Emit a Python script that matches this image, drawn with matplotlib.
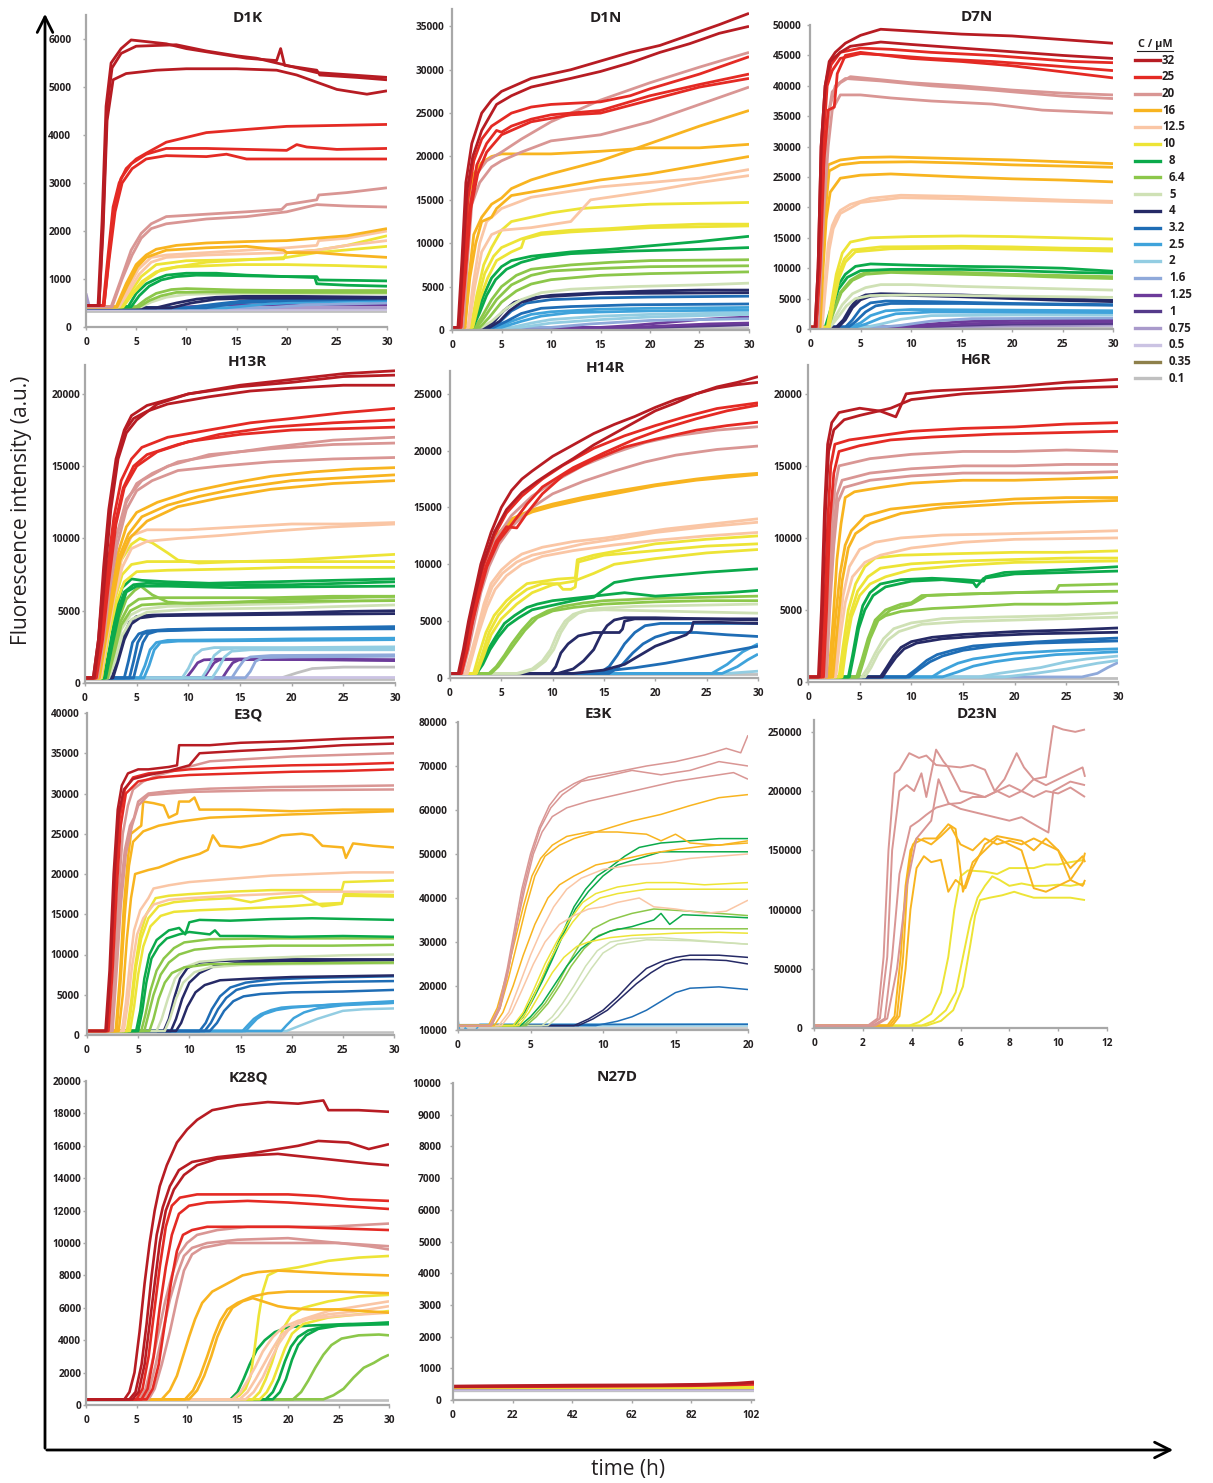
import matplotlib
matplotlib.use('Agg')
import numpy as np
import matplotlib.pyplot as plt
from matplotlib.lines import Line2D
from matplotlib.patches import FancyArrowPatch

W, H = 1213, 1483
plt.rcParams['font.family'] = ['Open Sans', 'DejaVu Sans']

# ---------------- legend / colours ----------------
CONCS = ['32', '25', '20', '16', '12.5', '10', '8', '6.4', '5', '4', '3.2', '2.5',
         '2', '1.6', '1.25', '1', '0.75', '0.5', '0.35', '0.1']
COLORS = ['#B71C23', '#E42A24', '#D99694', '#F8B420', '#FAC6A5', '#EDE436', '#0BAA4B',
          '#8CC74A', '#CFE1B5', '#262A66', '#1F6DB5', '#3FA3DB', '#93CDE2', '#8FA9DA',
          '#6C3B9A', '#553A8A', '#A99ACB', '#CBC3E3', '#8E804B', '#C0C0C0']
CCOL = dict(zip(CONCS, COLORS))

# ---------------- data (time in h, fluorescence in thousands a.u.) ----------------
D1K = [
 ('32', [(0,.45),(1.2,.45),(1.6,2.2),(2.0,4.6),(2.5,5.5),(3.5,5.8),(4.5,5.98),(8,5.9),(10,5.8),(13,5.7),(16,5.6),(19,5.55),(19.4,5.8),(19.8,5.45),(23,5.35),(23.3,5.25),(27,5.2),(30,5.15)]),
 ('32', [(0,.45),(1.3,.45),(1.7,2.2),(2.1,4.6),(2.6,5.4),(3.5,5.7),(5,5.85),(9,5.88),(12,5.75),(15,5.65),(17,5.6),(19,5.5),(20,5.45),(23,5.3),(30,5.2)]),
 ('32', [(0,.45),(1.3,.45),(1.7,2.0),(2.1,4.3),(2.7,5.15),(4,5.28),(7,5.35),(10,5.38),(15,5.38),(19,5.35),(21,5.25),(23,5.1),(25,4.95),(28,4.85),(30,4.92)]),
 ('25', [(0,.45),(1.7,.45),(2.2,1.5),(2.7,2.5),(3.3,3.0),(4,3.3),(5,3.5),(6,3.62),(8,3.85),(10,3.95),(12,4.05),(15,4.1),(20,4.18),(25,4.2),(30,4.22)]),
 ('25', [(0,.45),(1.8,.45),(2.3,1.5),(2.8,2.5),(3.5,3.1),(4.5,3.4),(6,3.6),(8,3.72),(12,3.72),(16,3.7),(20,3.68),(21,3.8),(22,3.75),(25,3.7),(30,3.72)]),
 ('25', [(0,.45),(1.8,.45),(2.3,1.4),(2.9,2.4),(3.6,3.0),(4.6,3.3),(6,3.5),(8,3.57),(12,3.55),(14,3.6),(16,3.5),(20,3.5),(25,3.5),(30,3.5)]),
 ('20', [(0,.42),(2.5,.42),(3.5,1.0),(4.5,1.6),(5.5,1.95),(6.5,2.15),(8,2.3),(12,2.35),(16,2.4),(19.5,2.45),(20,2.55),(23,2.65),(23.2,2.75),(26,2.8),(30,2.9)]),
 ('20', [(0,.42),(2.6,.42),(3.6,1.0),(4.6,1.5),(5.5,1.85),(6.5,2.05),(8,2.15),(12,2.25),(16,2.3),(20,2.4),(22,2.5),(23,2.55),(26,2.52),(30,2.5)]),
 ('16', [(0,.42),(3.0,.42),(4,0.9),(5,1.3),(6,1.5),(7,1.62),(9,1.7),(12,1.75),(16,1.78),(20,1.8),(23,1.85),(26,1.9),(30,2.05)]),
 ('16', [(0,.42),(3.1,.42),(4.1,0.85),(5.1,1.25),(6,1.45),(8,1.6),(12,1.65),(16,1.68),(19.7,1.6),(20,1.55),(23,1.55),(26,1.5),(30,1.45)]),
 ('12.5', [(0,.42),(3.2,.42),(4.2,.8),(5.2,1.2),(6.5,1.45),(8,1.5),(12,1.55),(16,1.6),(20,1.65),(23,1.7),(23.2,1.8),(26,1.85),(30,2.0)]),
 ('12.5', [(0,.42),(3.3,.42),(4.3,.75),(5.3,1.1),(6.5,1.35),(8,1.45),(12,1.5),(20,1.55),(23,1.6),(26,1.7),(30,1.8)]),
 ('10', [(0,.42),(3.5,.42),(4.5,.75),(5.5,1.05),(7,1.3),(10,1.38),(15,1.4),(19.7,1.42),(20,1.55),(23,1.6),(26,1.7),(30,1.9)]),
 ('10', [(0,.42),(3.6,.42),(4.6,.7),(5.6,.95),(7,1.15),(9,1.25),(15,1.3),(20,1.3),(25,1.28),(30,1.25)]),
 ('10', [(0,.42),(3.7,.42),(4.7,.7),(5.8,.95),(7.5,1.2),(12,1.35),(20,1.45),(23,1.55),(30,1.68)]),
 ('8', [(0,.42),(4.2,.42),(5,.7),(6,.9),(7,1.0),(8,1.08),(10,1.12),(13,1.12),(16,1.08),(20,1.05),(23,1.05),(23.2,0.98),(27,0.97),(30,0.96)]),
 ('8', [(0,.42),(4.5,.42),(5.3,.65),(6.3,.85),(7.5,.98),(9,1.05),(11,1.08),(15,1.07),(20,1.05),(22.8,1.03),(23,0.9),(26,0.87),(30,0.85)]),
 ('6.4', [(0,.42),(5,.42),(6,.58),(7,.7),(8.5,.78),(10,.8),(15,.77),(20,.76),(30,.76)]),
 ('6.4', [(0,.42),(5.3,.42),(6.3,.55),(7.5,.65),(9,.72),(12,.73),(20,.72),(30,.72)]),
 ('5', [(0,.42),(5.5,.42),(6.5,.52),(8,.62),(10,.68),(15,.7),(30,.7)]),
 ('4', [(0,.4),(7,.4),(9,.5),(11,.58),(13,.62),(16,.64),(20,.64),(30,.62)]),
 ('4', [(0,.4),(8.5,.4),(10.5,.5),(13,.58),(16,.6),(30,.6)]),
 ('3.2', [(0,.4),(10,.4),(13,.48),(16,.55),(20,.58),(30,.62)]),
 ('3.2', [(0,.4),(12,.4),(15,.5),(20,.55),(30,.58)]),
 ('2.5', [(0,.4),(14,.4),(18,.48),(22,.52),(30,.55)]),
 ('1.6', [(0,.4),(18,.4),(22,.46),(30,.5)]),
 ('1.25', [(0,.4),(8,.4),(12,.44),(15,.46),(30,.46)]),
 ('0.75', [(0,.7),(0.3,.45),(1,.4),(30,.4)]),
 ('0.5', [(0,.37),(30,.37)]),
 ('0.1', [(0,.33),(30,.33)]),
]

D1N = [
 ('32', [(0,.3),(0.6,.3),(1.0,8),(1.4,17),(2,21.5),(3,25),(4,26.5),(5,27.5),(8,29),(12,30),(15,31),(18,32),(21,32.8),(24,34),(27,35.2),(30,36.5)]),
 ('32', [(0,.3),(0.7,.3),(1.1,8),(1.5,16),(2.1,20),(3,23),(4.5,26),(6,27),(8,28),(12,29),(15,29.8),(18,30.8),(21,32),(24,33),(27,34.2),(30,35)]),
 ('25', [(0,.3),(0.8,.3),(1.2,8),(1.6,15),(2.2,19.5),(3,22),(4,23.5),(6,25),(8,25.7),(10,26),(15,26.3),(18,27),(20,27.8),(25,29.5),(30,31.5)]),
 ('25', [(0,.3),(0.9,.3),(1.3,7),(1.8,14),(2.5,19),(3.5,21.5),(4.5,23),(5,22.8),(6,23.5),(8,24.3),(10,24.8),(15,25.3),(20,27),(25,28.3),(30,29.5)]),
 ('25', [(0,.3),(0.9,.3),(1.4,7),(1.9,14),(2.6,18),(3.5,20.5),(5,22.5),(8,24),(12,24.8),(15,25),(20,26.5),(25,28),(30,29)]),
 ('20', [(0,.3),(1.0,.3),(1.4,7),(1.9,15),(2.5,18),(3.5,19.5),(5,20.5),(7,22),(10,24),(15,26.5),(20,28.5),(25,30.3),(30,32)]),
 ('20', [(0,.3),(1.1,.3),(1.5,7),(2,14.5),(2.8,17),(4,18.8),(5,19.5),(7,20.5),(10,21.8),(15,22.5),(20,24),(25,26),(30,28)]),
 ('16', [(0,.3),(1.1,.3),(1.5,8),(1.8,16),(2.2,18),(3,19.3),(4,20),(5,20.3),(10,20.3),(15,20.6),(20,21),(25,21),(30,21.4)]),
 ('16', [(0,.3),(1.3,.3),(1.7,6),(2.2,11),(3,13),(4,14.5),(5,15.2),(6,16.3),(8,17.3),(10,18),(15,19.5),(20,21.5),(25,23.5),(30,25.3)]),
 ('16', [(0,.3),(1.3,.3),(1.8,6),(2.4,10),(3,12.5),(4,13),(4.5,14),(6,15.5),(10,16.3),(15,17.3),(20,18),(25,19),(30,20)]),
 ('12.5', [(0,.3),(1.6,.3),(2.1,5),(2.8,10),(3.5,12.5),(5,14),(8,15.3),(12,16),(15,16.5),(20,17),(25,17.5),(30,18.5)]),
 ('12.5', [(0,.3),(1.7,.3),(2.3,5),(3,9),(4,11),(5,11.5),(8,11.8),(12,12.5),(14,15),(20,16),(25,17),(30,17.8)]),
 ('10', [(0,.3),(1.9,.3),(2.5,4),(3.2,7.5),(4,9.5),(5,11.5),(6,12.5),(8,13),(10,13.5),(13,14),(17,14.3),(20,14.5),(25,14.6),(30,14.7)]),
 ('10', [(0,.3),(2.0,.3),(2.6,3.5),(3.3,6.5),(4.2,8.5),(5,9.5),(7,10.5),(9,11.2),(12,11.5),(16,11.7),(20,12),(25,12.2),(30,12.2)]),
 ('10', [(0,.3),(2.1,.3),(2.8,3.5),(3.6,6),(4.5,8),(6,9),(7,9.5),(7.3,10.5),(9,11),(12,11.3),(20,11.8),(30,12)]),
 ('8', [(0,.3),(2.0,.3),(2.6,2),(3.2,4),(4,6),(5,7.3),(6,8),(8,8.5),(12,9),(16,9.3),(20,9.7),(25,10.2),(30,10.8)]),
 ('8', [(0,.3),(2.1,.3),(2.8,2),(3.5,4),(4.4,5.8),(5.5,7),(7,7.8),(9,8.4),(12,8.8),(18,9.1),(25,9.3),(30,9.5)]),
 ('6.4', [(0,.3),(2.3,.3),(3,1.5),(4,3.5),(5,5),(6.5,6.3),(8,7),(12,7.5),(16,7.8),(20,8),(30,8.1)]),
 ('6.4', [(0,.3),(2.5,.3),(3.3,1.5),(4.5,3.5),(6,5.2),(8,6.3),(10,6.8),(15,7.1),(20,7.3),(30,7.4)]),
 ('6.4', [(0,.3),(2.8,.3),(3.8,1.5),(5,3.2),(6.5,4.5),(8,5.3),(10,5.8),(15,6.3),(20,6.5),(30,6.7)]),
 ('5', [(0,.3),(3,.3),(4,1),(5.5,2.5),(7,3.5),(9,4.3),(12,4.7),(18,5),(25,5.2),(30,5.4)]),
 ('4', [(0,.3),(3.3,.3),(4.2,.9),(5.2,2.2),(6.3,3.2),(7.5,3.6),(10,4),(15,4.3),(20,4.5),(25,4.6),(30,4.6)]),
 ('4', [(0,.3),(3.8,.3),(4.8,1),(5.8,2.2),(7,3.2),(9,3.8),(15,4.2),(30,4.3)]),
 ('3.2', [(0,.3),(3.8,.3),(4.8,.9),(6,2.2),(7.5,3.1),(10,3.5),(15,3.7),(20,3.8),(30,3.9)]),
 ('3.2', [(0,.3),(4.2,.3),(5.5,1),(7,1.9),(9,2.5),(12,2.7),(18,2.9),(30,3.0)]),
 ('2.5', [(0,.3),(4.5,.3),(6,1),(8,1.8),(10,2.1),(15,2.4),(20,2.5),(30,2.6)]),
 ('2.5', [(0,.3),(5,.3),(7,1),(9,1.6),(12,2),(20,2.2),(30,2.3)]),
 ('2', [(0,.3),(6,.3),(8,.8),(10,1.2),(15,1.6),(20,1.8),(30,2.0)]),
 ('2', [(0,.3),(7,.3),(10,.8),(15,1.2),(20,1.5),(30,1.8)]),
 ('1.6', [(0,.3),(10,.3),(14,.7),(20,1.1),(30,1.3)]),
 ('1.25', [(0,.3),(15,.3),(18,.5),(22,.9),(25,1.2),(28,1.4),(30,1.5)]),
 ('1.25', [(0,.3),(18,.3),(22,.5),(26,.7),(30,.8)]),
 ('1', [(0,.3),(20,.3),(25,.45),(30,.6)]),
 ('0.1', [(0,.25),(30,.25)]),
]

D7N = [
 ('32', [(0,.3),(0.5,.3),(0.8,10),(1.1,30),(1.5,40),(1.9,44),(2.5,45.5),(3.5,47),(5,48.3),(7,49.3),(10,49),(15,48.5),(20,48.2),(25,47.6),(30,47)]),
 ('32', [(0,.3),(0.5,.3),(0.8,10),(1.1,30),(1.5,40),(2,44),(3,45.5),(4,46.5),(7,47.2),(10,46.8),(15,46.2),(20,45.6),(25,45),(30,44.5)]),
 ('25', [(0,.3),(0.6,.3),(0.9,10),(1.2,30),(1.6,40),(2.1,43.5),(3,45.5),(5,46.2),(8,46),(12,45.5),(18,45),(22,44.5),(26,44),(30,43.8)]),
 ('25', [(0,.3),(0.6,.3),(0.9,10),(1.3,30),(1.7,40),(2.2,42.5),(3,44.5),(5,45.3),(8,45),(12,44.5),(18,44),(24,43.3),(30,42.5)]),
 ('25', [(0,.3),(0.6,.3),(1.0,10),(1.4,28),(1.8,36),(2.4,36.5),(2.7,42),(3.5,45),(5,45.5),(10,44.5),(15,44),(20,43.3),(25,42.3),(30,41.3)]),
 ('20', [(0,.3),(0.7,.3),(1.0,10),(1.3,25),(1.7,34),(2.2,39),(3,40.5),(4,41.5),(7,41),(10,40.5),(15,40),(20,39.3),(25,38.8),(30,38.5)]),
 ('20', [(0,.3),(0.7,.3),(1.0,10),(1.4,27),(1.9,36),(2.5,40),(3.5,41.2),(7,40.8),(12,40),(18,39.3),(25,38.3),(30,37.9)]),
 ('20', [(0,.3),(0.8,.3),(1.1,10),(1.4,20),(1.8,30),(2.2,36),(3,38.5),(5,38.5),(8,38),(12,37.5),(18,37),(23,36),(30,35.5)]),
 ('16', [(0,.3),(0.9,.3),(1.2,10),(1.5,20),(1.8,27),(3,27.8),(5,28.2),(8,28.3),(15,28),(20,27.8),(25,27.5),(30,27.2)]),
 ('16', [(0,.3),(0.9,.3),(1.2,10),(1.5,19),(1.9,26),(3,27),(5,27.4),(10,27.5),(15,27.3),(20,27),(25,26.8),(30,26.6)]),
 ('16', [(0,.3),(1.0,.3),(1.3,10),(1.6,18),(2,22.5),(3,24.8),(5,25.3),(8,25.5),(15,25),(20,24.7),(25,24.5),(30,24.2)]),
 ('12.5', [(0,.3),(1.1,.3),(1.4,6),(1.8,14),(2.2,17),(2.6,18.5),(3,19.5),(4,20.5),(6,21.5),(9,22),(15,21.8),(20,21.5),(25,21.2),(30,21)]),
 ('12.5', [(0,.3),(1.2,.3),(1.5,6),(1.9,13),(2.3,16.5),(3,19),(5,20.8),(9,21.6),(15,21.4),(25,21),(30,20.8)]),
 ('10', [(0,.3),(1.7,.3),(2.1,4),(2.6,9),(3.2,12.5),(4,14.3),(6,15),(10,15.2),(15,15.3),(20,15.2),(25,15),(30,14.8)]),
 ('10', [(0,.3),(1.8,.3),(2.2,4),(2.8,9),(3.4,11.5),(4.2,13),(7,13.5),(15,13.6),(20,13.5),(25,13.3),(30,13.2)]),
 ('10', [(0,.3),(1.9,.3),(2.3,4),(2.9,8.5),(3.5,11),(4.5,12.7),(8,13.2),(15,13.3),(25,13),(30,12.8)]),
 ('8', [(0,.3),(1.5,.3),(2,3),(2.7,7),(3.5,9),(4.5,10.3),(6,10.7),(10,10.5),(15,10.3),(20,10.2),(25,10),(30,9.5)]),
 ('8', [(0,.3),(1.6,.3),(2.1,3),(2.8,6.5),(3.7,8.5),(5,9.6),(8,9.8),(15,9.8),(20,9.6),(26,9.3),(30,9.2)]),
 ('6.4', [(0,.3),(1.7,.3),(2.3,3),(3,6),(4,8),(5,9),(6,9.5),(10,9.5),(15,9.3),(20,9),(25,8.8),(30,8.6)]),
 ('6.4', [(0,.3),(1.8,.3),(2.4,3),(3.1,6),(4.2,8),(5.5,9),(8,9.3),(15,9),(20,8.8),(25,8.5),(30,8.3)]),
 ('5', [(0,.3),(1.8,.3),(2.5,2),(3.2,4),(4.2,5.8),(5.5,6.8),(7,7.3),(10,7.3),(15,7),(20,6.8),(25,6.6),(30,6.4)]),
 ('5', [(0,.3),(2,.3),(2.8,2),(3.6,3.8),(4.5,5),(6,5.5),(10,5.6),(20,5.4),(30,5.2)]),
 ('4', [(0,.3),(2.6,.3),(3.3,1.5),(4,3.5),(4.7,5),(5.5,5.6),(7,5.8),(10,5.7),(15,5.6),(20,5.3),(25,5),(30,4.7)]),
 ('4', [(0,.3),(2.8,.3),(3.5,1.5),(4.2,3.5),(5,4.8),(6,5.4),(8,5.6),(15,5.3),(20,5),(25,4.7),(30,4.5)]),
 ('3.2', [(0,.3),(3.5,.3),(4.2,1.5),(5,3.3),(6,4.3),(7.5,4.6),(12,4.5),(20,4.2),(30,4.0)]),
 ('3.2', [(0,.3),(3.8,.3),(4.5,1.2),(5.5,2.8),(6.5,3.8),(8,4.2),(15,4.2),(30,3.9)]),
 ('2.5', [(0,.3),(4,.3),(5,1),(6,2.2),(7.5,3),(10,3.2),(20,3.1),(30,3.0)]),
 ('2.5', [(0,.3),(4.5,.3),(5.5,.8),(7,1.8),(8.5,2.5),(12,2.8),(30,2.7)]),
 ('2', [(0,.3),(5.5,.3),(7,.8),(9,1.6),(12,2.2),(20,2.3),(30,2.3)]),
 ('1.6', [(0,.3),(7,.3),(9,.6),(12,1.3),(16,1.7),(30,1.8)]),
 ('1.25', [(0,.3),(8,.3),(11,.7),(15,1.2),(20,1.4),(30,1.5)]),
 ('1.25', [(0,.3),(9,.3),(13,.6),(18,1.0),(30,1.2)]),
 ('1', [(0,.3),(10,.3),(15,.6),(20,.8),(30,.9)]),
 ('0.75', [(0,.3),(12,.3),(20,.5),(30,.6)]),
 ('0.1', [(0,.2),(30,.2)]),
]

H13R = [
 ('32', [(0,.35),(0.8,.35),(1.3,3),(1.8,8),(2.3,12),(3,15.5),(3.8,17.5),(4.5,18.5),(6,19.2),(8,19.6),(10,20),(15,20.5),(20,20.8),(25,21.2),(30,21.3)]),
 ('32', [(0,.35),(0.8,.35),(1.3,3),(1.9,8),(2.4,12),(3.1,15.5),(3.9,17.5),(4.7,18.3),(6,18.8),(8,19.3),(12,19.8),(16,20.2),(20,20.4),(25,20.6),(30,20.6)]),
 ('32', [(0,.35),(0.9,.35),(1.4,3),(2,8),(2.5,12),(3.2,15.5),(4,17.3),(5,18.2),(7,19.3),(10,20),(15,20.6),(20,21),(25,21.4),(30,21.6)]),
 ('25', [(0,.35),(1.0,.35),(1.5,3),(2.1,7.5),(2.8,11.5),(3.5,14),(4.5,15.5),(5.5,16.3),(8,17),(12,17.5),(16,18),(20,18.3),(25,18.7),(30,19)]),
 ('25', [(0,.35),(1.0,.35),(1.6,3),(2.2,7),(2.9,11),(3.7,13.5),(4.7,15),(6,15.8),(9,16.5),(13,17.2),(18,17.7),(24,18),(30,18.2)]),
 ('25', [(0,.35),(1.1,.35),(1.7,3),(2.3,7),(3,11),(3.8,13.5),(5,15),(7,16),(10,16.7),(15,17.2),(20,17.5),(30,17.7)]),
 ('20', [(0,.35),(1.1,.35),(1.7,3),(2.3,6.5),(3,10),(4,12.5),(5,13.8),(6.5,14.5),(9,15.3),(13,15.8),(18,16.3),(24,16.8),(30,17)]),
 ('20', [(0,.35),(1.1,.35),(1.7,3),(2.3,6.5),(3,10),(4,12.7),(5.5,14),(8,15),(12,15.8),(18,16.2),(24,16.5),(30,16.6)]),
 ('20', [(0,.35),(1.2,.35),(1.8,3),(2.4,6.5),(3.1,9.5),(4,12),(5,13.3),(6.5,14),(9,14.7),(13,15),(18,15.3),(24,15.5),(30,15.6)]),
 ('16', [(0,.35),(1.3,.35),(1.9,3),(2.5,6),(3.2,9),(4,10.8),(5,11.8),(7,12.5),(10,13.2),(14,13.8),(18,14.3),(22,14.6),(26,14.8),(30,14.9)]),
 ('16', [(0,.35),(1.3,.35),(1.9,3),(2.6,6),(3.3,8.7),(4.2,10.3),(5.5,11.5),(8,12.3),(11,12.9),(15,13.5),(20,14),(25,14.2),(30,14.4)]),
 ('16', [(0,.35),(1.4,.35),(2,3),(2.7,5.8),(3.4,8.5),(4.3,10),(6,11.2),(9,12.2),(13,12.8),(18,13.4),(24,13.8),(30,14)]),
 ('12.5', [(0,.35),(1.5,.35),(2.1,3),(2.8,6),(3.5,8.5),(4.5,10.2),(6,10.6),(10,10.6),(15,10.8),(20,11),(25,11),(30,11.1)]),
 ('12.5', [(0,.35),(1.5,.35),(2.1,3),(2.8,5.8),(3.6,8),(4.5,9.3),(6,9.8),(9,10),(13,10.2),(18,10.5),(24,10.8),(30,11)]),
 ('10', [(0,.35),(1.5,.35),(2.1,3),(2.8,6),(3.5,8.5),(4.5,9.6),(5.3,10),(6.5,9.7),(8,9),(9,8.5),(11,8.3),(15,8.4),(20,8.5),(25,8.7),(30,8.9)]),
 ('10', [(0,.35),(1.6,.35),(2.2,3),(2.9,5.8),(3.6,7.5),(4.5,8.2),(6,8.4),(10,8.4),(15,8.4),(20,8.4),(25,8.4),(30,8.4)]),
 ('10', [(0,.35),(1.6,.35),(2.2,3),(3,5.5),(3.8,7),(5,7.7),(8,7.8),(15,7.9),(20,8),(25,8),(30,8)]),
 ('8', [(0,.35),(1.8,.35),(2.4,2.5),(3,5),(3.6,6.6),(4.5,7.2),(5.5,7.1),(8,7),(12,6.9),(18,7),(24,7.1),(30,7.2)]),
 ('8', [(0,.35),(1.9,.35),(2.5,2.5),(3.1,4.8),(3.8,6.3),(4.7,6.8),(6,6.9),(10,6.8),(15,6.8),(20,6.8),(25,6.9),(30,7)]),
 ('8', [(0,.35),(2.0,.35),(2.6,2.5),(3.3,4.8),(4,6.3),(5,6.7),(8,6.7),(14,6.6),(20,6.65),(30,6.7)]),
 ('6.4', [(0,.35),(2.0,.35),(2.6,2.3),(3.3,4.5),(4,5.8),(4.8,6.4),(5.4,6.7),(6.5,6.1),(8,5.6),(10,5.5),(15,5.6),(20,5.8),(25,5.9),(30,6)]),
 ('6.4', [(0,.35),(2.1,.35),(2.7,2.2),(3.4,4.2),(4.2,5.3),(5.2,5.8),(7,5.9),(12,5.9),(18,5.9),(24,6),(30,6)]),
 ('6.4', [(0,.35),(2.2,.35),(2.8,2),(3.5,4),(4.4,5),(5.5,5.4),(8,5.5),(15,5.6),(30,5.7)]),
 ('5', [(0,.35),(2.2,.35),(2.8,1.8),(3.5,3.7),(4.4,4.7),(5.5,5.1),(8,5.3),(14,5.4),(20,5.5),(30,5.8)]),
 ('5', [(0,.35),(2.3,.35),(2.9,1.5),(3.6,3.3),(4.5,4.4),(6,4.9),(10,5.1),(20,5.2),(30,5.4)]),
 ('4', [(0,.35),(2.6,.35),(3.1,1.5),(3.6,3),(4.3,4.2),(5,4.6),(6.5,4.7),(10,4.75),(15,4.8),(20,4.85),(25,4.95),(30,5.0)]),
 ('4', [(0,.35),(2.7,.35),(3.2,1.5),(3.8,3),(4.5,4.1),(5.3,4.5),(7,4.65),(12,4.7),(20,4.75),(30,4.8)]),
 ('3.2', [(0,.35),(3.8,.35),(4.2,1.5),(4.6,2.8),(5.2,3.4),(6,3.6),(8,3.7),(12,3.75),(20,3.8),(25,3.85),(30,3.9)]),
 ('3.2', [(0,.35),(4.3,.35),(4.7,1.5),(5.1,2.8),(5.6,3.4),(6.5,3.6),(10,3.7),(20,3.75),(30,3.8)]),
 ('3.2', [(0,.35),(4.7,.35),(5.1,1.5),(5.6,2.8),(6.1,3.4),(7,3.6),(12,3.7),(30,3.75)]),
 ('2.5', [(0,.35),(5.3,.35),(5.8,1.2),(6.3,2.3),(6.9,2.8),(8,2.95),(15,3),(20,3.05),(30,3.1)]),
 ('2.5', [(0,.35),(5.7,.35),(6.2,1.2),(6.7,2.3),(7.3,2.8),(9,2.9),(20,2.95),(30,3.0)]),
 ('2', [(0,.35),(9.4,.35),(10,1.0),(10.6,1.9),(11.3,2.3),(12.5,2.45),(20,2.45),(30,2.5)]),
 ('2', [(0,.35),(11.3,.35),(11.9,1.0),(12.5,1.9),(13.2,2.3),(14.5,2.4),(30,2.4)]),
 ('2', [(0,.35),(12.3,.35),(12.9,1.0),(13.5,1.8),(14.2,2.2),(16,2.3),(30,2.3)]),
 ('1.6', [(0,.35),(14.2,.35),(14.8,1.0),(15.4,1.6),(16,1.8),(18,1.9),(30,1.95)]),
 ('1.6', [(0,.35),(15.5,.35),(16,.8),(16.5,1.5),(17.2,1.75),(20,1.8),(30,1.85)]),
 ('1.25', [(0,.35),(9.8,.35),(10.4,.9),(10.9,1.4),(11.5,1.6),(13,1.65),(20,1.65),(30,1.6)]),
 ('1.25', [(0,.35),(11.5,.35),(12,.9),(12.5,1.4),(13,1.6),(15,1.65),(30,1.6)]),
 ('1.25', [(0,.35),(13.3,.35),(13.8,.9),(14.3,1.4),(14.9,1.6),(17,1.65),(30,1.55)]),
 ('0.5', [(0,.4),(30,.4)]),
 ('0.1', [(0,.35),(19,.35),(20.5,.7),(22,1.0),(25,1.1),(30,1.1)]),
 ('0.1', [(0,.3),(30,.3)]),
]

H14R = [
 ('32', [(0,.4),(0.8,.4),(1.3,2.5),(1.8,5),(2.4,7.5),(3,10),(4,12.8),(5,15),(6,16.5),(7,17.5),(8,18.2),(10,19.5),(12,20.5),(14,21.5),(16,22.3),(18,23),(20,23.8),(22,24.5),(24,25),(26,25.6),(28,26),(30,26.5)]),
 ('32', [(0,.4),(0.9,.4),(1.4,2.5),(1.9,5),(2.5,7.5),(3.2,10),(4.3,12.8),(5.5,14.8),(7,16.3),(8.5,17.3),(10,18.2),(12,19.3),(14,20.5),(16,21.5),(18,22.5),(20,23.5),(22,24.2),(24,25),(26,25.5),(28,25.8),(30,26)]),
 ('25', [(0,.4),(1,.4),(1.5,2.5),(2,5),(2.6,7.5),(3.3,10),(4.3,12.5),(5.5,14.5),(7,16),(9,17.5),(11,18.7),(14,20.2),(17,21.3),(20,22.2),(23,23),(26,23.7),(30,24.2)]),
 ('25', [(0,.4),(1.1,.4),(1.6,2.5),(2.2,5),(2.8,7.5),(3.5,9.8),(4.5,12),(5.5,13.3),(6.5,13.2),(7.5,14.5),(9,16.2),(11,17.8),(14,19.2),(17,20.3),(20,21),(24,21.8),(27,22.2),(30,22.5)]),
 ('25', [(0,.4),(1.1,.4),(1.7,2.5),(2.2,5),(2.9,7.5),(3.6,9.8),(4.7,12),(6,13.5),(7.5,15.3),(9,16.8),(12,18.5),(15,19.8),(18,21),(21,22),(24,22.8),(27,23.5),(30,24)]),
 ('20', [(0,.4),(1.1,.4),(1.7,2.5),(2.2,5),(2.8,7.5),(3.5,10),(4.5,12.3),(6,14.3),(8,16),(10,17.2),(13,18.7),(16,19.8),(19,20.7),(22,21.3),(26,21.8),(30,22.1)]),
 ('20', [(0,.4),(1.2,.4),(1.8,2.5),(2.4,5),(3,7.5),(3.8,9.8),(4.8,11.8),(6,13.3),(8,15),(10,16.2),(13,17.3),(16,18.2),(19,19),(22,19.6),(26,20.1),(30,20.4)]),
 ('16', [(0,.4),(1.0,.4),(1.5,2.5),(2,5),(2.6,8),(3.4,10.5),(4.5,12.5),(6,14),(8,14.8),(10,15.3),(13,15.9),(16,16.4),(20,17),(24,17.5),(27,17.8),(30,18)]),
 ('16', [(0,.4),(1.1,.4),(1.6,2.5),(2.1,5),(2.7,8),(3.5,10.4),(4.7,12.4),(6,13.8),(8,14.6),(10,15.1),(13,15.7),(16,16.2),(20,16.9),(24,17.4),(30,17.9)]),
 ('12.5', [(0,.4),(1.5,.4),(2,2),(2.6,4),(3.3,6.5),(4,8.3),(5,9.5),(6,10.3),(7,10.9),(9,11.5),(12,12),(15,12.3),(18,12.7),(21,13.1),(25,13.5),(30,14)]),
 ('12.5', [(0,.4),(1.6,.4),(2.1,2),(2.7,4),(3.4,6.3),(4.1,8),(5.1,9.2),(6.5,10.2),(8,10.8),(10,11.2),(13,11.8),(16,12.2),(20,12.8),(25,13.3),(30,13.7)]),
 ('12.5', [(0,.4),(1.7,.4),(2.2,2),(2.8,4),(3.6,6.2),(4.4,7.8),(5.5,9),(7,10),(9,10.7),(12,11.2),(16,11.7),(20,12.1),(25,12.5),(30,12.8)]),
 ('10', [(0,.4),(2.3,.4),(2.8,2),(3.5,4),(4.3,5.5),(5.5,6.8),(6.5,7.6),(7.5,8.3),(9,8.5),(10.5,8.7),(12.2,8.8),(12.4,10.4),(14,10.8),(17,11.3),(20,11.8),(25,12.2),(30,12.5)]),
 ('10', [(0,.4),(2.5,.4),(3.1,2),(3.8,4),(4.7,5.5),(6,6.8),(7.5,7.8),(9,8.3),(10.5,8.3),(11,7.8),(11.8,7.8),(12.2,8),(12.5,10.2),(15,10.8),(20,11.2),(25,11.6),(30,11.8)]),
 ('10', [(0,.4),(2.6,.4),(3.3,2),(4,3.8),(5,5.2),(6.5,6.5),(8,7.5),(10,8.2),(12,8.5),(14,9.2),(16,10),(20,10.5),(25,11),(30,11.3)]),
 ('8', [(0,.4),(2.5,.4),(3,1.2),(3.7,2.5),(4.5,3.7),(5.3,4.8),(6.3,5.5),(7.5,6.2),(8.5,6.5),(10,6.8),(12,7),(14,7.2),(17,7.5),(20,7.2),(24,7.4),(27,7.5),(30,7.7)]),
 ('8', [(0,.4),(2.6,.4),(3.2,1.2),(3.9,2.5),(4.7,3.6),(5.6,4.6),(6.7,5.3),(8,6),(10,6.4),(12,6.8),(14,7.1),(15,7.8),(16,8.4),(18,8.7),(20,8.9),(25,9.3),(30,9.6)]),
 ('6.4', [(0,.4),(3.8,.4),(4.5,1),(5.3,2),(6,3),(7,4.2),(8,5.2),(9.5,5.9),(11,6.3),(13,6.6),(15,6.8),(20,7),(25,7.1),(30,7.2)]),
 ('6.4', [(0,.4),(4,.4),(4.7,1),(5.5,2),(6.3,3),(7.3,4.2),(8.5,5.3),(10,5.9),(12,6.2),(15,6.5),(20,6.7),(25,6.8),(30,6.8)]),
 ('5', [(0,.4),(6.5,.4),(8,.8),(9,1.5),(9.8,2.5),(10.5,4),(11.2,5),(12,5.6),(13,5.9),(15,6),(20,5.9),(25,5.8),(30,5.7)]),
 ('5', [(0,.4),(6.8,.4),(8.3,.8),(9.3,1.5),(10.1,2.5),(10.8,4),(11.5,5),(12.5,5.7),(14,6.1),(18,6.3),(24,6.4),(30,6.5)]),
 ('4', [(0,.4),(9.8,.4),(10.3,1),(10.8,2.2),(11.5,3),(12.5,3.7),(14,4),(16.5,4),(16.8,4.3),(17,5),(18,5.2),(22,5.2),(30,5.2)]),
 ('4', [(0,.4),(10.5,.4),(12,.8),(13,1.5),(14,2.5),(14.7,3.8),(15.3,4.6),(16,5.1),(17,5.3),(20,5.3),(25,5.2),(30,5.1)]),
 ('4', [(0,.4),(12,.4),(15,.7),(17,1.2),(18.5,2),(20,2.8),(21.5,3.3),(23,3.8),(23.5,4.2),(23.7,4.9),(26,4.9),(30,4.8)]),
 ('3.2', [(0,.4),(14.5,.4),(15.5,1),(16.3,2),(17,3),(18,4),(19,4.6),(20.5,4.8),(25,4.8),(30,4.8)]),
 ('3.2', [(0,.4),(15.5,.4),(16.8,1.2),(17.8,2.2),(18.8,3),(20,3.6),(21.5,4),(24,4),(27,3.8),(30,3.65)]),
 ('3.2', [(0,.4),(13,.4),(15,.6),(18,.9),(21,1.3),(24,1.8),(27,2.3),(30,2.8)]),
 ('2.5', [(0,.4),(25.5,.4),(27,1.2),(28.5,2.3),(30,3.0)]),
 ('2.5', [(0,.4),(26.5,.4),(28,1),(29,1.6),(30,2.1)]),
 ('2', [(0,.4),(27,.4),(30,.6)]),
 ('0.1', [(0,.35),(30,.35)]),
]

H6R = [
 ('32', [(0,.35),(1.0,.35),(1.3,5),(1.6,12),(1.9,16.5),(2.3,18),(3,18.7),(5,19),(7,18.8),(8.5,18.4),(9.5,20),(12,20.2),(15,20.3),(20,20.5),(25,20.8),(30,21)]),
 ('32', [(0,.35),(1.1,.35),(1.4,5),(1.7,12),(2,16),(2.5,17.5),(3.5,18.2),(5,18.5),(8,19),(10,19.6),(15,20),(20,20.2),(25,20.4),(30,20.5)]),
 ('25', [(0,.35),(1.3,.35),(1.6,5),(1.9,11),(2.2,15),(2.6,16.5),(4,16.8),(6,17),(10,17.4),(15,17.6),(20,17.7),(25,17.9),(30,18)]),
 ('25', [(0,.35),(1.5,.35),(1.8,5),(2.1,11),(2.5,14.5),(3,16),(5,16.4),(8,16.8),(12,17),(18,17.2),(24,17.3),(30,17.4)]),
 ('20', [(0,.35),(1.6,.35),(1.9,5),(2.2,10),(2.6,13.5),(3,15),(6,15.5),(10,15.8),(15,16),(20,16),(25,16.1),(30,16)]),
 ('20', [(0,.35),(1.7,.35),(2,5),(2.4,10),(2.8,13),(3.3,14),(6,14.5),(10,14.8),(15,15),(20,15),(25,15.1),(30,15.1)]),
 ('20', [(0,.35),(1.8,.35),(2.1,5),(2.5,9.5),(2.9,12.5),(3.5,13.5),(6,14),(10,14.3),(15,14.5),(20,14.5),(25,14.5),(30,14.6)]),
 ('16', [(0,.35),(2.0,.35),(2.4,4),(2.8,8.5),(3.2,11),(3.6,12.8),(4.5,13.2),(7,13.5),(10,13.8),(15,14),(20,14),(25,14.1),(30,14.2)]),
 ('16', [(0,.35),(2.2,.35),(2.6,4),(3.1,7.5),(3.6,9.5),(4.2,10.5),(5.5,11.5),(8,12),(12,12.3),(16,12.5),(20,12.7),(25,12.8),(30,12.8)]),
 ('16', [(0,.35),(2.4,.35),(2.8,3.5),(3.3,7),(3.9,9.3),(4.6,10.3),(6,11),(9,11.7),(13,12.1),(20,12.4),(30,12.6)]),
 ('12.5', [(0,.35),(2.5,.35),(2.9,3),(3.4,6),(4,8),(5,9.2),(6.5,9.7),(9,10),(13,10.2),(20,10.3),(25,10.4),(30,10.5)]),
 ('12.5', [(0,.35),(2.7,.35),(3.1,3),(3.6,5.5),(4.3,7.3),(5.5,8.3),(7,8.8),(10,9.3),(15,9.7),(20,9.9),(30,10)]),
 ('10', [(0,.35),(3.0,.35),(3.4,2.5),(3.9,5),(4.6,6.8),(5.5,8),(6.5,8.6),(9,8.8),(14,8.9),(20,9),(25,9),(30,9.1)]),
 ('10', [(0,.35),(3.2,.35),(3.6,2.5),(4.1,4.7),(4.8,6.3),(5.8,7.3),(7,7.9),(10,8.2),(15,8.4),(20,8.5),(25,8.6),(30,8.6)]),
 ('10', [(0,.35),(3.3,.35),(3.7,2.5),(4.2,4.5),(5,6),(6,6.8),(7.5,7.3),(10,7.8),(15,8.1),(20,8.3),(30,8.4)]),
 ('8', [(0,.35),(3.9,.35),(4.3,1.8),(4.8,3.8),(5.3,5.3),(6,6.2),(7,6.8),(9,7.1),(12,7.2),(15,7.1),(17,7),(17.2,7.3),(19,7.6),(22,7.7),(25,7.8),(30,8)]),
 ('8', [(0,.35),(4.0,.35),(4.4,1.8),(4.9,3.7),(5.5,5),(6.3,6),(7.5,6.6),(10,7),(13,7.1),(16,6.9),(16.3,6.6),(17,7.2),(20,7.5),(25,7.6),(30,7.7)]),
 ('6.4', [(0,.35),(4.7,.35),(5.2,1.5),(5.8,3),(6.5,4.3),(7.5,5),(9,5.4),(10,5.5),(11,6),(15,6.1),(20,6.2),(24,6.3),(24.3,6.7),(30,6.8)]),
 ('6.4', [(0,.35),(4.8,.35),(5.3,1.5),(5.9,3),(6.6,4.2),(7.5,4.6),(9,4.9),(12,5.1),(15,5.2),(20,5.4),(25,5.4),(30,5.5)]),
 ('6.4', [(0,.35),(4.9,.35),(5.4,1.5),(6,3),(6.8,4.3),(8,5),(10,5.4),(11.5,6),(15,6.1),(20,6.2),(30,6.3)]),
 ('5', [(0,.35),(5.2,.35),(5.8,1),(6.5,2),(7.3,3),(8.3,3.7),(10,4.1),(13,4.4),(18,4.5),(24,4.6),(30,4.8)]),
 ('5', [(0,.35),(5.5,.35),(6.1,1),(6.8,2),(7.7,2.9),(8.8,3.5),(11,4),(15,4.2),(20,4.3),(30,4.5)]),
 ('4', [(0,.35),(7,.35),(7.6,1),(8.3,1.8),(9,2.4),(10,2.8),(12,3.1),(15,3.3),(20,3.5),(25,3.6),(30,3.75)]),
 ('4', [(0,.35),(7.2,.35),(7.8,1),(8.5,1.7),(9.3,2.3),(10.5,2.7),(13,3),(17,3.2),(22,3.35),(30,3.45)]),
 ('3.2', [(0,.35),(9.5,.35),(10.5,.9),(11.5,1.5),(12.5,1.9),(14,2.2),(16,2.5),(20,2.7),(25,2.9),(30,3.05)]),
 ('3.2', [(0,.35),(9.8,.35),(10.8,.9),(11.8,1.4),(13,1.8),(15,2.2),(18,2.5),(22,2.7),(30,2.85)]),
 ('2.5', [(0,.35),(12,.35),(13,.8),(14.5,1.3),(16,1.6),(18,1.8),(20,2),(25,2.2),(30,2.3)]),
 ('2.5', [(0,.35),(13,.35),(14.5,.7),(16,1.1),(18,1.4),(20,1.6),(24,1.9),(30,2.1)]),
 ('2', [(0,.35),(16.5,.35),(18.5,.6),(20.5,.8),(22.5,1),(25,1.4),(27,1.6),(30,1.8)]),
 ('2', [(0,.35),(19,.35),(22,.6),(25,.9),(28,1.3),(30,1.5)]),
 ('1.6', [(0,.35),(26.5,.35),(28,.6),(29,1),(30,1.35)]),
 ('0.1', [(0,.3),(30,.3)]),
]

E3Q = [
 ('32', [(0,.5),(1.8,.5),(2.2,8),(2.6,20),(3,28),(3.4,31),(4,32.5),(5,33),(6,33),(8,33.3),(8.8,33.5),(9,36),(12,36),(15,36.3),(20,36.5),(25,36.8),(30,37)]),
 ('32', [(0,.5),(1.9,.5),(2.3,8),(2.7,20),(3.1,27.5),(3.6,30.5),(4.5,31.8),(6,32.3),(8,32.8),(10,33.5),(11,35),(15,35.3),(20,35.6),(25,36),(30,36.2)]),
 ('25', [(0,.5),(2.0,.5),(2.4,8),(2.8,19),(3.2,27),(3.7,30.5),(4.5,32),(6,32.5),(10,33),(15,33.3),(20,33.5),(25,33.6),(30,33.8)]),
 ('25', [(0,.5),(2.1,.5),(2.5,8),(2.9,18),(3.3,26),(3.8,30),(5,31.5),(7,32),(10,32.3),(15,32.5),(20,32.7),(25,32.8),(30,33)]),
 ('20', [(0,.5),(2.3,.5),(2.7,8),(3.1,18),(3.5,25),(4,28.5),(4.5,30.5),(5.5,31.5),(7,32.3),(9,33),(12,34),(16,34.3),(20,34.6),(25,34.8),(30,35)]),
 ('20', [(0,.5),(2.4,.5),(2.8,8),(3.2,17),(3.7,23),(4.2,26),(4.6,27),(5,29),(6,30),(8,30.3),(12,30.6),(18,30.8),(24,30.9),(30,31)]),
 ('20', [(0,.5),(2.5,.5),(2.9,8),(3.3,16),(3.8,22.5),(4.4,26),(5,28.5),(6,29.8),(10,30.2),(18,30.4),(30,30.5)]),
 ('16', [(0,.5),(2.8,.5),(3.2,7),(3.6,16),(4,22),(4.3,25),(5.3,26),(5.5,29),(6.5,28.8),(7.5,28.5),(8,27),(8.8,27.5),(9,29),(10,29),(10.5,29.5),(11,28),(15,28),(20,27.8),(25,28),(30,28)]),
 ('16', [(0,.5),(2.9,.5),(3.3,7),(3.7,15),(4.1,21),(4.5,24),(5.5,25.3),(7,26),(9,26.5),(12,27),(16,27.2),(20,27.4),(25,27.6),(30,27.8)]),
 ('16', [(0,.5),(3.1,.5),(3.5,5),(3.9,12),(4.3,17),(4.7,20),(6,20.5),(7,20.8),(9,21.8),(11,22.5),(11.8,23),(12.3,24.8),(13,23.5),(15,23.3),(17,23.8),(19,24.8),(21,25),(22,24.8),(23,23.5),(25,23.3),(25.3,22),(26,23.8),(28,23.5),(30,23.3)]),
 ('12.5', [(0,.5),(3.4,.5),(3.8,4),(4.2,9),(4.6,13),(5.2,15.5),(6,17),(6.5,18.2),(8,18.6),(10,19),(14,19.4),(18,19.8),(22,20),(26,20.2),(30,20.2)]),
 ('12.5', [(0,.5),(3.6,.5),(4,4),(4.4,8.5),(4.9,12.5),(5.5,14.5),(6.5,16.2),(8,16.8),(10,17),(14,17.3),(18,17.5),(22,17.8),(26,17.8),(30,17.8)]),
 ('10', [(0,.5),(3.9,.5),(4.3,4),(4.7,8.5),(5.2,12.5),(5.8,15),(6.7,17),(8,17.3),(10,17.5),(14,17.8),(18,18),(22,18),(24.9,18),(25.1,19),(30,19.2)]),
 ('10', [(0,.5),(4.0,.5),(4.4,4),(4.8,8.5),(5.3,12),(6,14.5),(7,16),(8.5,16.5),(11,16.8),(14,17),(16,16.5),(18,17),(21,17.3),(23,16),(24.9,16.3),(25.1,17.5),(30,17.4)]),
 ('10', [(0,.5),(4.2,.5),(4.6,3.5),(5,7.5),(5.5,11),(6.2,13.5),(7.2,14.8),(8.5,15.3),(11,15.5),(15,15.7),(20,16),(23,16.3),(24.9,16.4),(25.1,17.3),(30,17.2)]),
 ('8', [(0,.5),(4.8,.5),(5.2,3),(5.6,7),(6.1,10),(6.8,11.8),(7.5,12.5),(8,13),(9,13.3),(9.6,12.5),(10,14),(11,14.3),(14,14.2),(18,14.4),(22,14.5),(26,14.4),(30,14.3)]),
 ('8', [(0,.5),(5.0,.5),(5.4,3),(5.8,6.5),(6.3,9.5),(7,11),(7.8,12),(9,12.5),(10,12.8),(12,12.5),(12.5,13),(13,12.3),(16,12.3),(20,12.2),(25,12.3),(30,12.2)]),
 ('6.4', [(0,.5),(5.3,.5),(5.7,2.5),(6.2,5.5),(6.8,8),(7.5,9.5),(8.5,10.8),(9.5,11.5),(12,11.9),(18,12),(24,12),(30,12)]),
 ('6.4', [(0,.5),(5.6,.5),(6,2.5),(6.5,5),(7.2,7.5),(8,9),(9,10),(10.5,10.6),(13,10.9),(18,11.1),(24,11.1),(30,11.2)]),
 ('6.4', [(0,.5),(6.1,.5),(6.5,2),(7,4.5),(7.6,6.5),(8.3,7.7),(9.5,8.4),(12,8.8),(20,8.9),(30,9)]),
 ('5', [(0,.5),(6.8,.5),(7.3,2),(7.9,4.5),(8.6,7),(9.5,8.4),(11,9.1),(14,9.4),(20,9.7),(25,9.9),(30,10)]),
 ('5', [(0,.5),(7.6,.5),(8.1,2),(8.7,4.5),(9.4,6.5),(10.5,7.8),(12,8.4),(15,8.7),(20,8.8),(30,8.9)]),
 ('4', [(0,.5),(7.5,.5),(8,2),(8.5,4.5),(9.1,7),(9.8,8.3),(11,9),(13,9.2),(16,9.3),(20,9.4),(25,9.4),(30,9.4)]),
 ('4', [(0,.5),(8.2,.5),(8.7,2),(9.3,4.5),(10,6.5),(11,7.7),(12.5,8.6),(15,9),(20,9.2),(30,9.3)]),
 ('4', [(0,.5),(8.7,.5),(9.2,1.5),(9.8,3.5),(10.6,5.3),(11.5,6.2),(13,6.8),(16,7),(20,7.2),(25,7.3),(30,7.4)]),
 ('3.2', [(0,.5),(11,.5),(11.6,1.5),(12.2,3.2),(13,4.8),(14,5.9),(15.5,6.5),(18,6.9),(22,7.1),(26,7.2),(30,7.3)]),
 ('3.2', [(0,.5),(11.5,.5),(12.1,1.5),(12.8,3.2),(13.6,4.6),(14.6,5.6),(16,6.1),(19,6.4),(24,6.6),(30,6.7)]),
 ('3.2', [(0,.5),(12,.5),(12.7,1.5),(13.4,3),(14.3,4.2),(15.3,4.8),(17,5.1),(20,5.3),(25,5.4),(30,5.6)]),
 ('2.5', [(0,.5),(15.2,.5),(15.7,1.2),(16.3,2),(17,2.6),(18,3.1),(19,3.4),(20,3.5),(25,3.8),(30,4.0)]),
 ('2.5', [(0,.5),(15.5,.5),(16,1.2),(16.6,2),(17.3,2.6),(18.5,3.1),(20,3.4),(24,3.8),(30,4.2)]),
 ('2.5', [(0,.5),(19,.5),(19.5,1.2),(20.2,2.1),(21.2,2.8),(22.5,3.3),(25,3.7),(30,4)]),
 ('2', [(0,.5),(19.5,.5),(20.5,1),(21.5,1.5),(22.5,2),(24,2.6),(25,3),(27,3.2),(30,3.3)]),
 ('0.1', [(0,.4),(30,.4)]),
]

E3K = [
 ('20', [(0,11),(2.2,11),(2.8,15),(3.4,24),(3.9,33),(4.4,42),(5,50),(5.6,56),(6.3,61),(7,64),(8,66),(9,67.5),(11,68.7),(13,70),(15,71),(17,72.5),(18.5,74),(19.5,73),(20,77)]),
 ('20', [(0,11),(2.3,11),(2.9,15),(3.5,24),(4,33),(4.5,42),(5.1,50),(5.7,56),(6.4,60.5),(7.2,63.5),(8.5,66.5),(10,67.5),(12,69),(14,68),(16,69),(18,71),(20,70)]),
 ('20', [(0,11),(2.3,11),(2.9,15),(3.5,24),(4,33),(4.6,42),(5.2,50),(5.8,55),(6.5,58.5),(7.5,60.5),(9,62),(11,63.5),(13,65),(15,66.5),(17,67.5),(19,68.5),(20,67)]),
 ('16', [(0,11),(2.1,11),(2.7,15),(3.3,22),(3.9,30),(4.5,38),(5.1,45),(5.7,49),(6.5,52),(7.5,54),(9,55),(11,55),(13,54.5),(14,53),(15,54.5),(16,52.5),(18,52),(20,53)]),
 ('16', [(0,11),(2.3,11),(2.9,15),(3.5,22),(4.1,30),(4.7,38),(5.3,45),(6,49.5),(7,52),(8,53.5),(10,55.5),(12,57.5),(14,59),(16,61),(18,62.8),(20,63.5)]),
 ('16', [(0,11),(2.5,11),(3.1,14),(3.8,20),(4.5,27),(5.3,34),(6.2,40),(7,43),(8,45),(9.5,47.5),(11,48.5),(13,50),(15,51),(17,51.8),(20,52.5)]),
 ('12.5', [(0,11),(2.8,11),(3.5,14),(4.2,20),(5,27),(5.8,33),(6.6,38),(7.5,42),(8.5,44.5),(10,46.5),(12,47.5),(14,48),(16,49),(18,49.5),(20,50)]),
 ('12.5', [(0,11),(3.0,11),(3.7,14),(4.4,19),(5.2,25),(6,30),(7,34),(8,36),(9,37.5),(10,38),(11,39),(12.5,40),(13.5,38),(15,37.5),(17,36.5),(18.5,37),(20,39.5)]),
 ('10', [(0,11),(3.8,11),(4.5,14),(5.2,19),(6,25),(6.8,30),(7.7,35),(8.6,39),(9.5,41),(11,42.5),(13,43.5),(15,43.5),(17,43),(20,43.5)]),
 ('10', [(0,11),(4.0,11),(4.7,14),(5.4,19),(6.2,25),(7,30),(7.9,34.5),(8.8,38),(9.8,40),(11,41),(13,42),(16,42),(20,42)]),
 ('10', [(0,11),(4.2,11),(4.9,14),(5.7,18.5),(6.5,23),(7.3,26.5),(8.2,29),(9,30),(10.5,31),(12,31.5),(15,32),(18,32.2),(20,32)]),
 ('8', [(0,11),(3.8,11),(4.4,13),(5,16.5),(5.7,21),(6.4,26),(7.2,32),(8,38),(8.8,42),(9.6,45),(10.5,47),(11.5,49.5),(12.5,51.5),(14,52.5),(16,53),(18,53.5),(20,53.5)]),
 ('8', [(0,11),(3.9,11),(4.5,13),(5.1,16.5),(5.8,21),(6.5,26),(7.3,32),(8.1,37.5),(9,41.5),(10,45),(11,47.5),(12.5,49),(14,50.5),(17,50.5),(20,50.5)]),
 ('8', [(0,11),(4.3,11),(5,13),(5.8,16),(6.6,20),(7.5,24.5),(8.5,28.5),(9.5,31),(10.5,32.5),(12,33.5),(13.5,35),(14,36.5),(14.6,34),(15.5,36.2),(17,36),(20,35.5)]),
 ('6.4', [(0,11),(4.5,11),(5.2,13),(6,16),(6.8,20),(7.6,25),(8.4,29.5),(9.3,33),(10.5,35),(12,36.5),(13.5,37.5),(16,37),(18,36.5),(20,36)]),
 ('6.4', [(0,11),(4.7,11),(5.4,13),(6.2,16),(7,20),(7.8,24.5),(8.7,28.5),(9.7,31.5),(11,33),(13,33),(16,33),(20,33)]),
 ('5', [(0,11),(5.8,11),(6.5,13),(7.2,16),(8,20),(8.8,24.5),(9.6,28),(10.5,30),(12,30.8),(14,31),(16,30.5),(18,30),(20,29.5)]),
 ('5', [(0,11),(6.2,11),(6.9,13),(7.6,16),(8.4,20),(9.2,24),(10,27.5),(11,29.5),(13,30.5),(16,30.3),(20,29.5)]),
 ('4', [(0,11),(8,11),(9,12.5),(10,14.5),(11,17.5),(12,21),(13,24),(14,25.5),(15,26.5),(16,27),(18,27),(20,26.5)]),
 ('4', [(0,11),(8.3,11),(9.3,12.5),(10.3,14.5),(11.3,17.5),(12.3,20.5),(13.3,23),(14.3,25),(15.5,26),(17,26),(18.5,25.8),(20,25)]),
 ('3.2', [(0,11),(9.5,11),(11,12),(12,13),(13,14.5),(14,16.5),(15,18.5),(16,19.5),(18,19.8),(20,19.2)]),
 ('3.2', [(0,11.2),(20,11.3)]),
 ('2.5', [(0,12.5),(0.2,8),(0.5,10.5),(1.0,9),(1.5,11.3),(20,11.3)]),
 ('2', [(0,11),(20,11)]),
 ('0.1', [(0,10.4),(20,10.4)]),
]

D23N = [
 ('20', [(0,2),(2.2,2),(2.6,8),(2.85,60),(3.05,150),(3.3,215),(3.5,218),(3.9,232),(4.3,228),(4.6,230),(5,222),(6,220),(6.5,222),(7,218),(7.4,200),(7.8,210),(8.3,232),(8.6,220),(9,210),(9.5,212),(9.8,255),(10.2,252),(10.7,250),(11.1,252)]),
 ('20', [(0,2),(2.3,2),(2.7,8),(3.0,60),(3.2,150),(3.5,200),(3.8,205),(4.1,200),(4.4,215),(4.6,195),(5,235),(5.3,225),(5.5,220),(6,200),(6.5,198),(7,195),(7.5,200),(8,195),(8.5,200),(9,195),(9.5,200),(10,198),(10.5,203),(11.1,195)]),
 ('20', [(0,2),(2.4,2),(2.9,8),(3.2,60),(3.5,130),(3.95,170),(4.3,175),(4.6,180),(5,186),(5.5,189),(6,190),(6.5,195),(7,195),(7.5,200),(8,205),(8.5,200),(9,210),(9.5,205),(10,210),(10.5,215),(11,220),(11.1,212)]),
 ('20', [(0,2),(2.5,2),(3.0,8),(3.4,50),(3.8,120),(4.2,160),(4.8,175),(5.1,210),(5.5,190),(6,185),(7,180),(8,175),(8.5,178),(9,172),(9.6,165),(9.8,200),(10.5,208),(11.1,205)]),
 ('16', [(0,2),(3.0,2),(3.3,10),(3.55,60),(3.75,120),(3.95,150),(4.2,160),(4.5,158),(4.8,155),(5.2,162),(5.6,170),(6,155),(6.5,150),(7,160),(7.5,155),(8,158),(8.5,155),(9,160),(9.5,155),(10,150),(10.5,135),(11,145),(11.1,140)]),
 ('16', [(0,2),(3.1,2),(3.4,10),(3.65,60),(3.85,130),(4.05,155),(4.5,160),(5,160),(5.5,172),(5.8,168),(6.1,115),(6.5,140),(7,150),(7.5,160),(8,155),(8.5,150),(9,118),(9.5,115),(10,120),(10.5,125),(11,140),(11.1,148)]),
 ('16', [(0,2),(3.2,2),(3.5,10),(3.75,50),(3.95,100),(4.2,135),(4.5,145),(4.8,140),(5.2,142),(5.5,115),(5.8,125),(6.2,118),(6.5,135),(7,155),(7.5,162),(8,160),(8.5,158),(9,150),(9.5,160),(10,150),(10.5,125),(11,120),(11.1,125)]),
 ('10', [(0,2),(3.9,2),(4.3,5),(4.8,12),(5.2,30),(5.5,60),(5.75,100),(6,128),(6.3,133),(7,132),(7.5,130),(8,135),(8.5,135),(9,135),(9.5,138),(10,138),(10.5,140),(11.1,142)]),
 ('10', [(0,2),(4.4,2),(4.9,6),(5.4,15),(5.8,30),(6.1,60),(6.4,90),(6.7,110),(7,120),(7.3,128),(7.6,125),(8,120),(8.5,122),(9,120),(9.5,120),(10,121),(10.5,120),(11.1,122)]),
 ('10', [(0,2),(4.6,2),(5.2,6),(5.7,15),(6.1,35),(6.4,70),(6.6,95),(6.8,108),(7.2,110),(7.7,112),(8.2,115),(8.5,113),(9,110),(9.5,110),(10,110),(10.5,110),(11.1,108)]),
]

K28Q = [
 ('32', [(0,.35),(3.8,.35),(4.3,.8),(4.8,2),(5.3,4.5),(5.8,7.5),(6.3,10),(6.8,12),(7.3,13.5),(8,14.8),(9,16.2),(10,17),(11,17.6),(12.5,18.2),(15,18.5),(18,18.7),(21,18.6),(23.5,18.8),(24,18.2),(27,18.2),(30,18.1)]),
 ('32', [(0,.35),(4.3,.35),(4.9,.8),(5.5,2.5),(6,5),(6.5,8),(7,10.5),(7.6,12.2),(8.3,13.5),(9.2,14.5),(10.5,15),(13,15.3),(16,15.5),(19,15.8),(21,16),(23,16.3),(26,16.2),(28,15.8),(30,16.1)]),
 ('32', [(0,.35),(4.6,.35),(5.2,.8),(5.8,2.5),(6.3,5),(6.8,7.5),(7.3,10),(7.9,12),(8.7,13.3),(9.7,14.2),(11,14.8),(13,15.2),(16,15.4),(19,15.5),(22,15.3),(25,15.1),(28,14.9),(30,14.8)]),
 ('25', [(0,.35),(5.0,.35),(5.6,1),(6.2,3),(6.8,6),(7.3,8.5),(7.9,11),(8.5,12.3),(9.3,12.8),(11,13),(14,13),(17,13),(20,13),(23,12.9),(26,12.7),(30,12.6)]),
 ('25', [(0,.35),(5.5,.35),(6.1,1),(6.7,3),(7.3,6),(7.9,8.5),(8.5,10.5),(9.2,11.8),(10.2,12.3),(12,12.5),(16,12.6),(20,12.5),(25,12.3),(30,12.1)]),
 ('25', [(0,.35),(6.0,.35),(6.6,1),(7.2,2.5),(7.8,5),(8.4,7.5),(9,9.5),(9.6,10.5),(10.5,10.8),(12,11),(16,11),(20,11),(25,10.9),(30,10.8)]),
 ('20', [(0,.35),(5.3,.35),(5.9,1),(6.5,2.5),(7.2,4.5),(7.8,6.3),(8.5,8),(9.2,9.3),(10,10),(11,10.5),(13,10.8),(16,11),(20,11),(24,11),(27,11.1),(30,11.2)]),
 ('20', [(0,.35),(5.7,.35),(6.3,1),(6.9,2.5),(7.6,4.5),(8.3,6.5),(9,8),(9.7,9.2),(10.5,9.7),(12,10),(15,10.2),(20,10.3),(25,10),(28,9.8),(30,9.6)]),
 ('20', [(0,.35),(6.2,.35),(6.8,1),(7.5,2.5),(8.3,4.5),(9,6.5),(9.7,8.3),(10.5,9.3),(11.5,9.7),(14,10),(20,10),(25,10),(30,9.8)]),
 ('16', [(0,.35),(7.5,.35),(8.3,.9),(9,1.8),(9.6,3),(10.2,4.2),(10.8,5.3),(11.5,6.3),(12.5,7),(14,7.5),(15.5,8),(17,8.2),(19,8.3),(22,8.2),(25,8.1),(30,8)]),
 ('16', [(0,.35),(9.8,.35),(10.6,.9),(11.3,1.8),(12,3),(12.7,4.3),(13.3,5.2),(14,5.9),(15,6.3),(16.5,6.7),(18,6.9),(20,7),(25,7),(30,6.9)]),
 ('16', [(0,.35),(10.2,.35),(11,.9),(11.7,1.8),(12.4,3),(13,4.2),(13.7,5.2),(14.5,6),(15.5,6.4),(16.5,6.6),(18,6.3),(19,6.1),(20,6),(22,5.9),(25,5.9),(30,5.7)]),
 ('12.5', [(0,.35),(14.5,.35),(15.3,.8),(16,1.5),(16.8,2.4),(17.5,3.3),(18.5,4.2),(19.5,4.8),(21,5.2),(24,5.6),(27,5.8),(30,6.1)]),
 ('12.5', [(0,.35),(15.2,.35),(16,.8),(16.8,1.6),(17.6,2.5),(18.4,3.4),(19.3,4.3),(20.5,4.9),(22,5.3),(25,5.5),(30,5.7)]),
 ('12.5', [(0,.35),(15.8,.35),(16.6,.8),(17.5,1.7),(18.3,2.8),(19.1,3.8),(20,4.6),(21.5,5.3),(24,5.8),(27,6.1),(30,6.4)]),
 ('10', [(0,.35),(14.5,.35),(15.2,.6),(15.8,1),(16.3,1.8),(16.7,3.5),(17.1,5.5),(17.5,7),(18,8),(19,8.3),(21,8.5),(24,8.9),(27,9.1),(30,9.2)]),
 ('10', [(0,.35),(16.5,.35),(17.2,.8),(17.8,1.6),(18.4,2.6),(19,3.8),(19.6,4.8),(20.3,5.5),(21.5,6),(24,6.4),(27,6.7),(30,6.8)]),
 ('10', [(0,.35),(17.2,.35),(17.9,.8),(18.5,1.5),(19.1,2.5),(19.7,3.5),(20.4,4.4),(21.5,5),(24,5.4),(27,5.6),(30,5.8)]),
 ('8', [(0,.35),(14.3,.35),(15,.8),(15.6,1.6),(16.2,2.5),(16.9,3.4),(17.7,4),(18.7,4.5),(20,4.8),(22,4.9),(26,5),(30,5)]),
 ('8', [(0,.35),(17.8,.35),(18.5,.8),(19.1,1.6),(19.7,2.7),(20.3,3.6),(21,4.2),(22,4.6),(24,4.9),(27,5),(30,5.1)]),
 ('8', [(0,.35),(18.5,.35),(19.2,.8),(19.8,1.6),(20.4,2.8),(21,3.7),(21.8,4.3),(23,4.7),(25,4.9),(30,5)]),
 ('6.4', [(0,.35),(20.5,.35),(21.3,.8),(22,1.5),(22.7,2.3),(23.5,3.1),(24.3,3.7),(25.3,4.1),(27,4.3),(29,4.35),(30,4.3)]),
 ('6.4', [(0,.35),(23.5,.35),(24.5,.6),(25.5,1),(26.5,1.7),(27.5,2.3),(28.5,2.6),(29.3,2.9),(30,3.1)]),
 ('0.1', [(0,.3),(30,.3)]),
]

N27D = [
 ('32', [(0,.43),(40,.46),(70,.47),(85,.49),(95,.52),(101,.56)]),
 ('25', [(0,.42),(50,.44),(80,.46),(101,.5)]),
 ('10', [(0,.41),(101,.41)]),
 ('0.75', [(0,.37),(101,.37)]),
 ('0.5', [(0,.34),(101,.34)]),
 ('0.1', [(0,.31),(101,.31)]),
]
N27D_XTICKLABELS = ['0', '22', '42', '62', '82', '102']

# ---------------- layout ----------------
def fx(x):
    return x / W

def fy(y):
    return 1 - y / H

fig = plt.figure(figsize=(W / 100, H / 100), dpi=100)

TICKCOL = '#231F20'
AXCOL = '#A8A8A8'

panels = [
    # name, data, box(x0,x1,ytop,ybot), xlim, xticks, ylim, yticks, title_pos, lw, ylabel pad
    ('D1K', D1K, (86, 387, 15, 327), (0, 30), range(0, 31, 5), (0, 6500), range(0, 6001, 1000), (248, 18), 2.0, 8.6),
    ('D1N', D1N, (452, 749, 9, 330), (0, 30), range(0, 31, 5), (0, 37000), range(0, 35001, 5000), (606, 18), 2.0, 3.6),
    ('D7N', D7N, (810, 1113, 25, 329), (0, 30), range(0, 31, 5), (0, 50000), range(0, 50001, 5000), (977, 17), 2.0, 4.3),
    ('H13R', H13R, (85, 395, 365, 683), (0, 30), range(0, 31, 5), (0, 22000), range(0, 20001, 5000), (247, 362), 2.0, 1.4),
    ('H14R', H14R, (450, 758, 371, 678), (0, 30), range(0, 31, 5), (0, 27000), range(0, 25001, 5000), (605, 368), 2.0, 3.6),
    ('H6R', H6R, (808, 1118, 365, 682), (0, 30), range(0, 31, 5), (0, 22000), range(0, 20001, 5000), (976, 360), 2.0, 2.2),
    ('E3Q', E3Q, (87, 394, 713, 1035), (0, 30), range(0, 31, 5), (0, 40000), range(0, 40001, 5000), (248, 714), 1.8, 3.6),
    ('E3K', E3K, (458, 748, 722, 1030), (0, 20), range(0, 21, 5), (10000, 80000), range(10000, 80001, 10000), (598, 714), 1.1, 5.8),
    ('D23N', D23N, (814, 1107, 720, 1028), (0, 12), range(0, 13, 2), (0, 260000), range(0, 250001, 50000), (977, 714), 1.4, 6.5),
    ('K28Q', K28Q, (86, 389, 1081, 1405), (0, 30), range(0, 31, 5), (0, 20000), range(0, 20001, 2000), (248, 1078), 1.9, 1.4),
    ('N27D', N27D, (453, 754, 1083, 1400), (0, 101), range(0, 101, 20), (0, 10000), range(0, 10001, 1000), (617, 1077), 2.4, 6.5),
]

for name, data, box, xlim, xticks, ylim, yticks, tpos, lw, ypad in panels:
    x0, x1, yt, yb = box
    ax = fig.add_axes([fx(x0), fy(yb), (x1 - x0) / W, (yb - yt) / H])
    for conc, pts in reversed(data):
        t = [p[0] for p in pts]
        v = [p[1] * 1000 for p in pts]
        ax.plot(t, v, color=CCOL[conc], lw=lw, solid_joinstyle='round', solid_capstyle='butt')
    ax.set_xlim(*xlim)
    ax.set_ylim(*ylim)
    ax.set_xticks(list(xticks))
    if name == 'N27D':
        ax.set_xticklabels(N27D_XTICKLABELS)
    else:
        ax.set_xticklabels([str(v) for v in xticks])
    ax.set_yticks(list(yticks))
    ax.set_yticklabels([str(v) for v in yticks])
    for s in ('top', 'right'):
        ax.spines[s].set_visible(False)
    for s in ('left', 'bottom'):
        ax.spines[s].set_color(AXCOL)
        ax.spines[s].set_linewidth(1.6)
    ax.tick_params(axis='both', length=2, width=1, color=AXCOL,
                   labelsize=7.3, labelcolor=TICKCOL)
    ax.tick_params(axis='y', pad=ypad)
    ax.tick_params(axis='x', pad=5)
    for lab in ax.get_xticklabels() + ax.get_yticklabels():
        lab.set_fontweight('bold')
    ax.patch.set_alpha(0)
    fig.text(fx(tpos[0]), fy(tpos[1]), name, ha='center', va='center',
             fontsize=11, fontweight='bold', color=TICKCOL)

# ---------------- legend ----------------
fig.text(fx(1155), fy(45), 'C / µM', ha='center', va='center', fontsize=7.8,
         fontweight='bold', color=TICKCOL)
fig.add_artist(Line2D([fx(1137), fx(1173)], [fy(51), fy(51)], color=TICKCOL, lw=0.8))
for i, (c, col) in enumerate(zip(CONCS, COLORS)):
    y = 60 + i * 16.75
    fig.add_artist(Line2D([fx(1135), fx(1160)], [fy(y), fy(y)], color=col, lw=2.4))
    xt = 1162 if i < 6 else 1169
    fig.text(fx(xt), fy(y), c, ha='left', va='center', fontsize=8.3,
             fontweight='bold', color=TICKCOL)

# ---------------- big axes arrows ----------------
fig.add_artist(FancyArrowPatch((fx(45), fy(1451)), (fx(45), fy(11)),
                               transform=fig.transFigure, arrowstyle='->',
                               mutation_scale=28, lw=2, color='black'))
fig.add_artist(FancyArrowPatch((fx(44), fy(1450)), (fx(1176), fy(1450)),
                               transform=fig.transFigure, arrowstyle='->',
                               mutation_scale=28, lw=2, color='black'))
fig.text(fx(22), fy(510), 'Fluorescence intensity (a.u.)', rotation=90,
         ha='center', va='center', fontsize=15, color=TICKCOL)
fig.text(fx(628), fy(1469), 'time (h)', ha='center', va='center',
         fontsize=15, color=TICKCOL)

fig.savefig('out.png', dpi=100)
